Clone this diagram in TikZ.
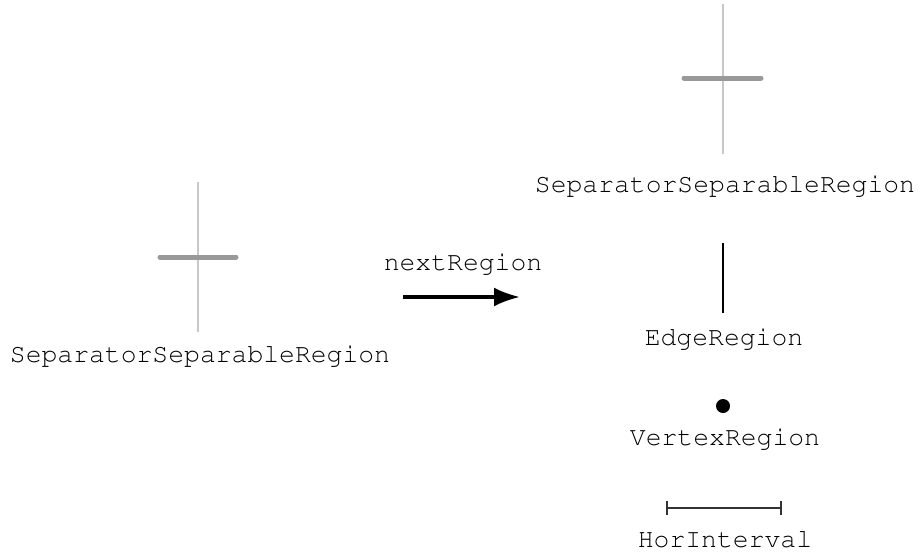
\documentclass[tikz,border=0pt]{standalone}
\usepackage[T1]{fontenc}
\usepackage{courier}
\usetikzlibrary{arrows.meta}
\definecolor{barGray}{HTML}{999999}
\definecolor{stemGray}{HTML}{C8C8C8}
\tikzset{
  lbl/.style={font=\ttfamily\fontsize{26.4}{30}\selectfont, inner sep=0pt, anchor=base},
  stem/.style={draw=stemGray, line width=2pt},
  bar/.style={draw=barGray, line width=5pt, line cap=round},
  edgeline/.style={draw=black, line width=1.5pt},
  interval/.style={draw=black!80, line width=1.5pt},
}
\begin{document}
\begin{tikzpicture}[x=1pt, y=-1pt]
  \useasboundingbox (0,0) rectangle (918,554);

  % separator region before the step
  \draw[stem] (198,182) -- (198,332);
  \draw[bar] (160,257) -- (236,257);
  \node[lbl] (srcLabel) at (200,362) {SeparatorSeparableRegion};

  % transition arrow
  \node[lbl] (nextLabel) at (463,270) {nextRegion};
  \coordinate (arrowStart) at (403,297);
  \coordinate (arrowEnd) at (520,297);
  \draw[line width=3.5pt, -{Latex[length=26pt,width=19pt]}] (arrowStart) -- (arrowEnd);

  % possible successor regions
  \draw[stem] (723,4) -- (723,154);
  \draw[bar] (684,78) -- (761,78);
  \node[lbl] (sepLabel) at (725,192) {SeparatorSeparableRegion};

  \draw[edgeline] (723,243) -- (723,313);
  \node[lbl] (edgeLabel) at (724,345) {EdgeRegion};

  \fill (723,406) circle (7pt);
  \node[lbl] (vertexLabel) at (725,445) {VertexRegion};

  \draw[interval] (667,508) -- (781,508);
  \draw[interval] (667,501) -- (667,515);
  \draw[interval] (781,501) -- (781,515);
  \node[lbl] (intervalLabel) at (725,547) {HorInterval};
\end{tikzpicture}
\end{document}
